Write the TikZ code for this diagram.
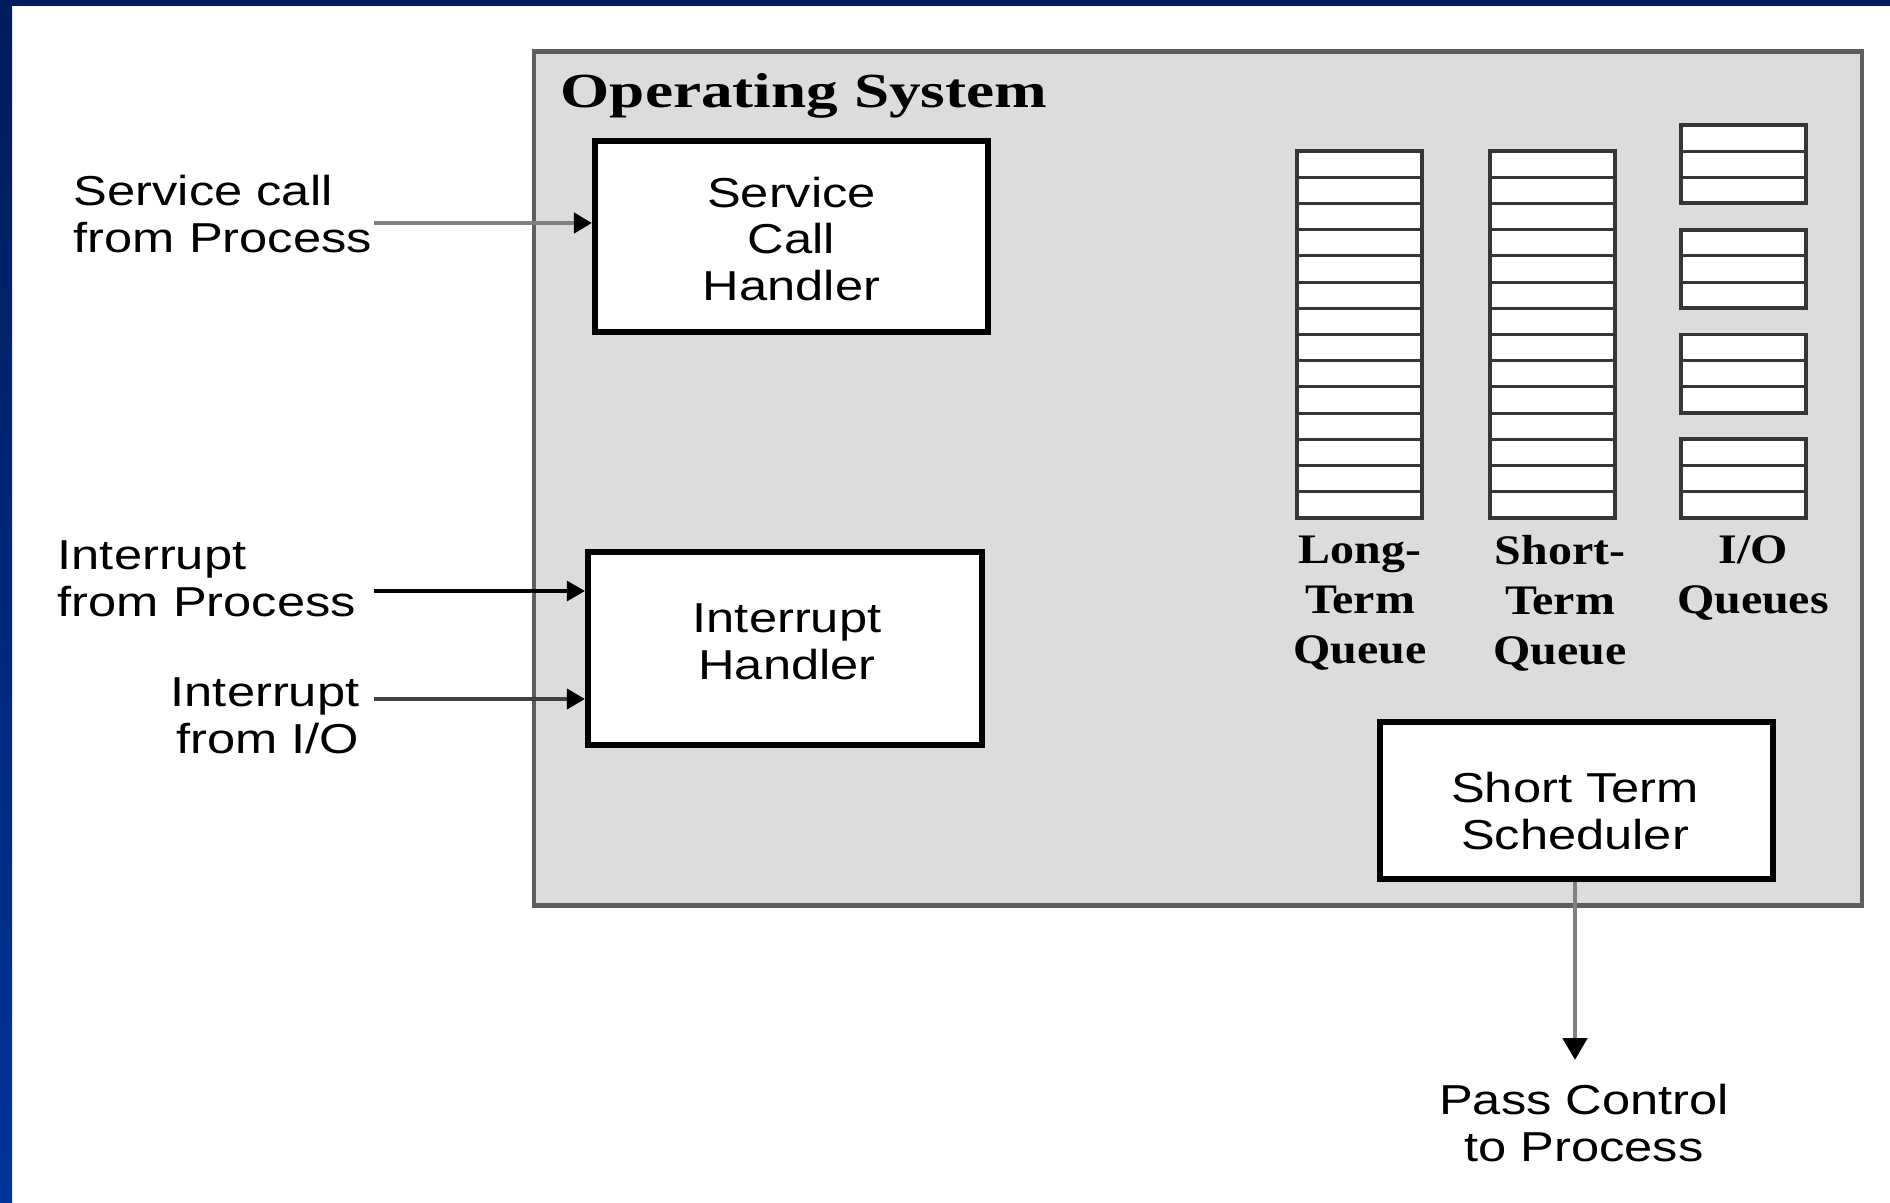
\documentclass[tikz,border=0pt]{standalone}
\usepackage{fontspec}
\usetikzlibrary{arrows.meta}
% Fonts: a wide sans for the plain labels, bold serif for the title and queue names
\newfontfamily\lblsans{Liberation Sans}[FakeStretch=1.21]
\newfontfamily\ttlserif{Liberation Serif}[FakeStretch=1.29]
\newfontfamily\qserif{Liberation Serif}[FakeStretch=1.14]
\definecolor{navytop}{HTML}{001C5A}
\definecolor{navybot}{HTML}{003399}
\definecolor{osfill}{HTML}{DCDCDC}
\definecolor{osline}{HTML}{5E5E5E}
\definecolor{qline}{HTML}{363636}
\definecolor{wire}{HTML}{808080}
\definecolor{darkwire}{HTML}{404040}

\begin{document}
\begin{tikzpicture}[x=0.01cm, y=-0.01cm,
  sanslbl/.style={font=\lblsans\fontsize{11.9pt}{13.23pt}\selectfont, inner sep=0pt},
  qlbl/.style={font=\qserif\bfseries\fontsize{11.95pt}{14.2pt}\selectfont, inner sep=0pt, align=center},
  handler/.style={draw=black, line width=1.7pt, fill=white, inner sep=0pt},
  qcell/.style={draw=qline, line width=0.85pt, fill=white},
  qframe/.style={draw=qline, line width=1.1pt},
  flow/.style={line width=1.3pt, -{Triangle[length=0.18cm,width=0.2cm,color=black]}},
]
\useasboundingbox (0,0) rectangle (1890,1202);
\fill[white] (0,0) rectangle (1890,1202);

% slide frame: blue bar on the left, dark strip along the top
\shade[top color=navytop, bottom color=navybot] (0,0) rectangle (12,1202);
\fill[navytop] (0,0) rectangle (1890,6);

% operating system area
\node[draw=osline, fill=osfill, line width=1.3pt, minimum width=13.27cm,
      minimum height=8.54cm, inner sep=0pt] (os) at (1198,478.5) {};
\node[font=\ttlserif\bfseries\fontsize{13.94pt}{16pt}\selectfont, anchor=base west,
      inner sep=0pt] (title) at (560,107) {Operating System};

% handler boxes
\node[handler, minimum width=3.93cm, minimum height=1.91cm] (sch) at (791.5,236.5) {};
\node[handler, minimum width=3.94cm, minimum height=1.93cm] (ih) at (785,648.5) {};
\node[handler, minimum width=3.93cm, minimum height=1.57cm] (sts) at (1576.5,800.5) {};

\node[sanslbl, align=center] (schtxt) at (791.5,239) {Service\\Call\\Handler};
\node[sanslbl, align=center] (ihtxt) at (787,642) {Interrupt\\Handler};
\node[sanslbl, align=center] (ststxt) at (1575,811) {Short Term\\Scheduler};

% queues
\def\qh{26.21}
\foreach \qx in {1297,1490} {
  \foreach \i in {0,...,13}
    \draw[qcell] (\qx,{151+\i*\qh}) rectangle ({\qx+125},{151+(\i+1)*\qh});
  \draw[qframe] (\qx,151) rectangle ({\qx+125},{151+14*\qh});
}
\foreach \k in {0,...,3} {
  \foreach \j in {0,1,2}
    \draw[qcell] (1681,{151+(4*\k+\j-1)*\qh}) rectangle (1806,{151+(4*\k+\j)*\qh});
  \draw[qframe] (1681,{151+(4*\k-1)*\qh}) rectangle (1806,{151+(4*\k+2)*\qh});
}

\node[qlbl] (ltlbl) at (1360,603) {Long-\\Term\\Queue};
\node[qlbl] (stlbl) at (1560,603) {Short-\\Term\\Queue};
\node[qlbl] (iolbl) at (1753,578) {I/O\\Queues};

% incoming events
\node[sanslbl, anchor=west, align=left] (svc) at (73,214) {Service call\\from Process};
\node[sanslbl, anchor=west, align=left] (iproc) at (57,579) {Interrupt\\from Process};
\node[sanslbl, anchor=east, align=right] (iio) at (360,716) {Interrupt\\from I/O};

\coordinate (svcstart) at (374,223);
\coordinate (iprocstart) at (374,591);
\coordinate (iiostart) at (374,699);
\draw[flow, draw=wire] (svcstart) -- (svcstart -| sch.west);
\draw[flow, draw=black, line width=0.9pt] (iprocstart) -- (iprocstart -| ih.west);
\draw[flow, draw=darkwire, line width=1.1pt] (iiostart) -- (iiostart -| ih.west);

% hand-off to the chosen process
\node[sanslbl, align=center] (pass) at (1584,1123) {Pass Control\\to Process};
\coordinate (passtip) at (1575,1060);
\draw[line width=1.4pt, draw=wire, -{Triangle[length=0.22cm,width=0.24cm,color=black]}]
  (sts.south -| passtip) -- (passtip);
\end{tikzpicture}
\end{document}
